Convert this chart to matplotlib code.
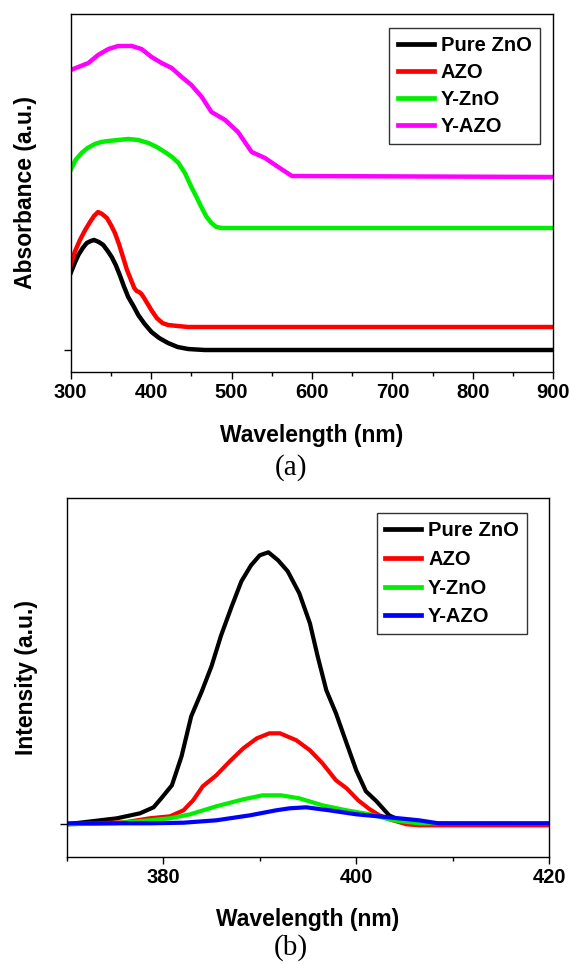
import numpy as np
import matplotlib
matplotlib.use('Agg')
import matplotlib.pyplot as plt

plt.rcParams['font.family'] = ['Liberation Sans', 'DejaVu Sans']
plt.rcParams['font.weight'] = 'bold'

# (a) absorbance, arbitrary offsets
wl_zno = [300, 305, 309.5, 315, 320, 325, 329, 335, 340.5, 346, 351, 356, 361, 366, 371.5, 378,
          384, 392, 400.5, 410, 421, 433, 446, 456, 467, 900]
abs_zno = [0.77, 0.87, 0.95, 1.02, 1.07, 1.09, 1.10, 1.08, 1.05, 0.99, 0.93, 0.85, 0.75, 0.64,
           0.53, 0.44, 0.35, 0.26, 0.18, 0.12, 0.07, 0.03, 0.01, 0.005, 0.0, 0.0]

wl_azo = [300, 305, 311.5, 318, 324, 329, 334, 339, 345, 350, 355, 360, 365, 370, 376, 379,
          382, 385, 388, 392, 396.5, 401, 407, 414, 421, 433, 446, 900]
abs_azo = [0.85, 0.98, 1.10, 1.20, 1.28, 1.34, 1.38, 1.36, 1.32, 1.25, 1.17, 1.06, 0.93, 0.80,
           0.68, 0.62, 0.59, 0.58, 0.56, 0.51, 0.45, 0.39, 0.32, 0.27, 0.25, 0.24, 0.23, 0.23]

wl_yzno = [300, 306, 313.5, 321, 330, 338, 347, 359, 371.5, 384, 396.5, 407, 417, 426, 434,
           442, 450, 457, 463, 469, 475, 481, 488, 900]
abs_yzno = [1.80, 1.90, 1.97, 2.02, 2.06, 2.08, 2.09, 2.10, 2.11, 2.10, 2.07, 2.03, 1.98, 1.93,
            1.87, 1.77, 1.63, 1.52, 1.42, 1.33, 1.27, 1.23, 1.22, 1.22]

wl_yazo = [300, 309.5, 322, 334, 347, 359, 376, 388, 400.5, 413, 425.5, 438, 450, 463,
           475, 492, 508, 525, 541.5, 558, 575, 900]
abs_yazo = [2.80, 2.83, 2.87, 2.95, 3.01, 3.04, 3.04, 3.01, 2.93, 2.87, 2.82, 2.73, 2.65, 2.53,
            2.38, 2.30, 2.18, 1.98, 1.92, 1.83, 1.74, 1.73]

# (b) PL intensity
pl_wl_zno = [370, 371.7, 375.2, 377.6, 379, 379.8, 380.9, 381.9, 382.9, 384, 385, 386, 387.1,
             388.1, 389.1, 390, 390.9, 391.9, 392.9, 394.1, 395.2, 396, 396.9, 397.9, 399,
             400, 401, 402.1, 403.4, 404.5, 405.5, 420]
pl_zno = [0.0, 0.02, 0.06, 0.11, 0.17, 0.26, 0.39, 0.68, 1.08, 1.33, 1.58, 1.89, 2.18,
          2.43, 2.59, 2.69, 2.72, 2.64, 2.53, 2.31, 2.01, 1.68, 1.34, 1.11, 0.81,
          0.54, 0.33, 0.23, 0.09, 0.04, 0.01, 0.0]

pl_wl_azo = [370, 376, 378.6, 380.7, 382.1, 383.1, 384.1, 385.5, 386.9, 388.3, 389.7, 391, 392.1,
             393.8, 395.2, 396.5, 397.9, 399, 400.2, 401.4, 402.4, 403.8, 405.2, 406.5, 420]
pl_azo = [0.0, 0.02, 0.06, 0.08, 0.14, 0.24, 0.38, 0.49, 0.63, 0.76, 0.86, 0.91, 0.91,
          0.84, 0.74, 0.61, 0.44, 0.36, 0.24, 0.15, 0.09, 0.04, 0.0, -0.01, -0.01]

pl_wl_yzno = [370, 375, 378.6, 380.7, 382.8, 385.5, 388.3, 390.3, 392.2, 394.1, 396.5, 399,
              401.4, 403.8, 406.5, 409.5, 420]
pl_yzno = [0.0, 0.01, 0.04, 0.06, 0.10, 0.18, 0.25, 0.29, 0.29, 0.26, 0.19, 0.14,
           0.10, 0.04, 0.01, 0.01, 0.01]

pl_wl_yazo = [370, 378.6, 382.1, 385.5, 389, 391.7, 393.1, 394.8, 397.2, 400, 403.4, 406.5,
              408.5, 420]
pl_yazo = [0.01, 0.01, 0.016, 0.04, 0.09, 0.14, 0.16, 0.17, 0.14, 0.10, 0.07, 0.04,
           0.01, 0.01]

labels_a = ['Pure ZnO', 'AZO', 'Y-ZnO', 'Y-AZO']
colors_a = ['black', '#ff0000', '#00ee00', '#ff00ff']
labels_b = ['Pure ZnO', 'AZO', 'Y-ZnO', 'Y-AZO']
colors_b = ['black', '#ff0000', '#00ee00', '#0000ff']

fig = plt.figure(figsize=(5.72, 9.64), dpi=100)

def style(ax):
    for s in ax.spines.values():
        s.set_linewidth(1.0)
    ax.tick_params(axis='both', which='major', direction='out', length=5, width=1,
                   labelsize=14.5, pad=3)
    ax.tick_params(axis='x', which='minor', direction='out', length=3, width=1)
    ax.set_yticks([0])
    ax.set_yticklabels([])
    for t in ax.get_xticklabels():
        t.set_fontweight('bold')

def leg(ax, anchor, spacing):
    lg = ax.legend(loc='upper right', bbox_to_anchor=anchor, frameon=True, fancybox=False,
                   edgecolor='black', fontsize=14.5, handlelength=1.8, handletextpad=0.35,
                   labelspacing=spacing, borderpad=0.4, borderaxespad=0)
    lg.get_frame().set_linewidth(1.0)
    for line in lg.get_lines():
        line.set_linewidth(3.4)
    for t in lg.get_texts():
        t.set_fontweight('bold')

# ---- (a)
ax1 = fig.add_axes([0.1236, 0.6141, 0.8437, 0.3714])
for w, a, c, l in zip([wl_zno, wl_azo, wl_yzno, wl_yazo],
                      [abs_zno, abs_azo, abs_yzno, abs_yazo], colors_a, labels_a):
    ax1.plot(w, a, color=c, lw=3.2, label=l, solid_joinstyle='round')
ax1.set_xlim(300, 900)
ax1.set_ylim(-0.22, 3.36)
ax1.set_xticks(np.arange(300, 901, 100))
ax1.set_xticks(np.arange(350, 900, 100), minor=True)
style(ax1)
ax1.set_xlabel('Wavelength (nm)', fontsize=16.5, fontweight='bold', labelpad=16)
ax1.set_ylabel('Absorbance (a.u.)', fontsize=16.5, fontweight='bold', labelpad=16)
leg(ax1, (0.972, 0.962), 0.40)

# ---- (b)
ax2 = fig.add_axes([0.1166, 0.1113, 0.8437, 0.3718])
for w, a, c, l in zip([pl_wl_zno, pl_wl_azo, pl_wl_yzno, pl_wl_yazo],
                      [pl_zno, pl_azo, pl_yzno, pl_yazo], colors_b, labels_b):
    ax2.plot(w, a, color=c, lw=3.0, label=l, solid_joinstyle='round')
ax2.set_xlim(370, 420)
ax2.set_ylim(-0.324, 3.26)
ax2.set_xticks([380, 400, 420])
ax2.set_xticks([370, 390, 410], minor=True)
style(ax2)
ax2.set_xlabel('Wavelength (nm)', fontsize=16.5, fontweight='bold', labelpad=15)
ax2.set_ylabel('Intensity (a.u.)', fontsize=16.5, fontweight='bold', labelpad=13)
leg(ax2, (0.954, 0.958), 0.48)

fig.text(291 / 572, 1 - 468 / 964, '(a)', ha='center', va='center',
         fontsize=21, family='Liberation Serif', fontweight='normal')
fig.text(291 / 572, 1 - 948 / 964, '(b)', ha='center', va='center',
         fontsize=21, family='Liberation Serif', fontweight='normal')

fig.savefig('out.png', dpi=100)
